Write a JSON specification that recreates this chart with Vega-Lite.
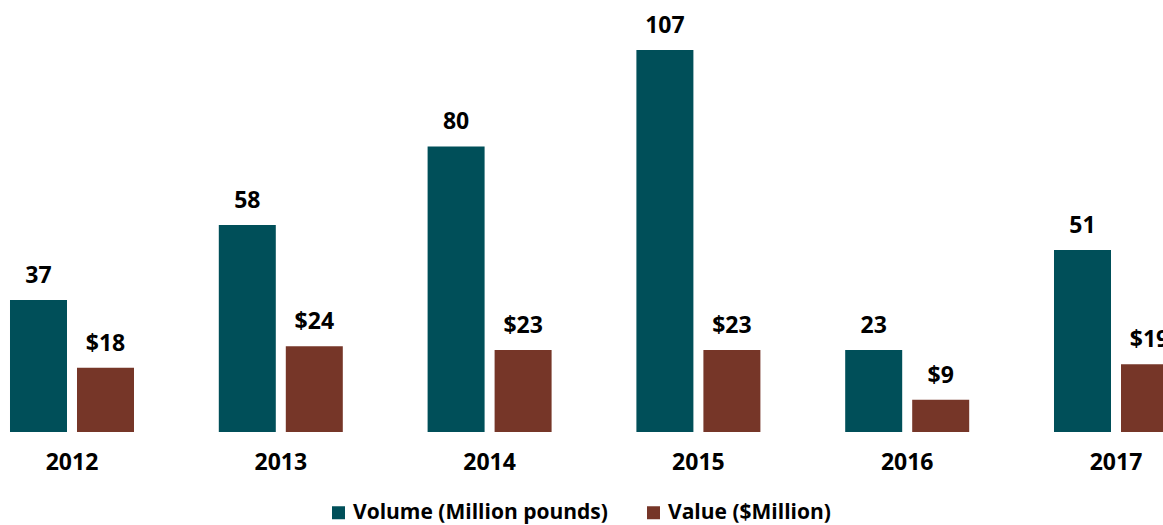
{
  "$schema": "https://vega.github.io/schema/vega-lite/v6.json",
  "autosize": {"type": "none"},
  "width": 1163,
  "height": 432,
  "padding": {"top": 0, "left": 0, "right": 0, "bottom": 93},
  "config": {
    "view": {"stroke": null},
    "font": "Open Sans",
    "text": {"font": "Open Sans"}
  },
  "data": {
    "values": [
      {"year": "2012", "series": "Volume (Million pounds)", "value": 37, "label": "37"},
      {"year": "2012", "series": "Value ($Million)", "value": 18, "label": "$18"},
      {"year": "2013", "series": "Volume (Million pounds)", "value": 58, "label": "58"},
      {"year": "2013", "series": "Value ($Million)", "value": 24, "label": "$24"},
      {"year": "2014", "series": "Volume (Million pounds)", "value": 80, "label": "80"},
      {"year": "2014", "series": "Value ($Million)", "value": 23, "label": "$23"},
      {"year": "2015", "series": "Volume (Million pounds)", "value": 107, "label": "107"},
      {"year": "2015", "series": "Value ($Million)", "value": 23, "label": "$23"},
      {"year": "2016", "series": "Volume (Million pounds)", "value": 23, "label": "23"},
      {"year": "2016", "series": "Value ($Million)", "value": 9, "label": "$9"},
      {"year": "2017", "series": "Volume (Million pounds)", "value": 51, "label": "51"},
      {"year": "2017", "series": "Value ($Million)", "value": 19, "label": "$19"}
    ]
  },
  "encoding": {
    "x": {
      "field": "year",
      "type": "nominal",
      "scale": {"range": [-32.4, 1220.4], "paddingInner": 0, "paddingOuter": 0},
      "axis": {
        "title": null,
        "domain": false,
        "ticks": false,
        "tickSize": 0,
        "labelAngle": 0,
        "labelFont": "Open Sans",
        "labelFontWeight": "bold",
        "labelFontSize": 23,
        "labelColor": "#000000",
        "labelBaseline": "middle",
        "labelPadding": 30
      }
    },
    "xOffset": {
      "field": "series",
      "type": "nominal",
      "sort": ["Volume (Million pounds)", "Value ($Million)"],
      "scale": {"paddingInner": 0.14925, "paddingOuter": 0.6328}
    },
    "y": {
      "field": "value",
      "type": "quantitative",
      "scale": {"domain": [0, 121], "nice": false, "zero": true},
      "axis": null
    }
  },
  "layer": [
    {
      "mark": {"type": "bar"},
      "encoding": {
        "color": {
          "field": "series",
          "type": "nominal",
          "sort": ["Volume (Million pounds)", "Value ($Million)"],
          "scale": {
            "domain": ["Volume (Million pounds)", "Value ($Million)"],
            "range": ["#004f59", "#763628"]
          },
          "legend": {
            "title": null,
            "orient": "none",
            "legendX": 328,
            "legendY": 502,
            "direction": "horizontal",
            "symbolType": "square",
            "symbolSize": 169,
            "symbolStrokeWidth": 0,
            "labelFont": "Open Sans",
            "labelFontWeight": "bold",
            "labelFontSize": 21,
            "labelColor": "#000000",
            "labelLimit": 0,
            "labelOffset": 4,
            "columnPadding": 35,
            "padding": 0
          }
        }
      }
    },
    {
      "mark": {
        "type": "text",
        "baseline": "alphabetic",
        "dy": -17,
        "font": "Open Sans",
        "fontWeight": "bold",
        "fontSize": 23,
        "color": "#000000"
      },
      "encoding": {
        "text": {"field": "label", "type": "nominal"}
      }
    }
  ]
}
